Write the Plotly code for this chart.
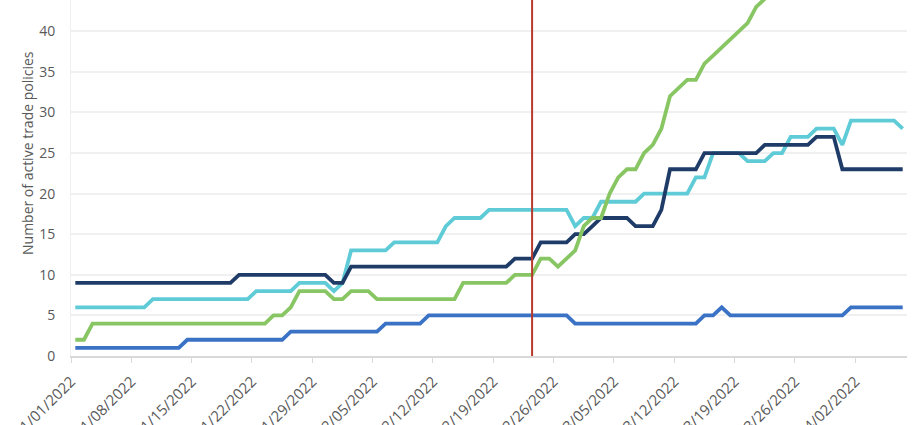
import pandas as pd
import plotly.graph_objects as go

# ---- data (daily, 01/01/2022 .. 04/07/2022) ----
start_date = "2022-01-01"
n_days = 97

navy_values = ([9] * 19 + [10] * 11 + [9] * 2 + [11] * 19 + [12] * 3 + [14] * 4 +
               [15] * 2 + [16] + [17] * 4 + [16] * 3 + [18] + [23] * 4 + [25] * 7 +
               [26] * 6 + [27] * 3 + [23] * 8)
cyan_values = ([6] * 9 + [7] * 12 + [8] * 5 + [9] * 4 + [8] + [9] + [13] * 5 + [14] * 6 +
               [16] + [17] * 4 + [18] * 10 + [16] + [17] * 2 + [19] * 5 + [20] * 6 +
               [22] * 2 + [25] * 4 + [24] * 3 + [25] * 2 + [27] * 3 + [28] * 3 + [26] +
               [29] * 6 + [28])
green_values = ([2] * 2 + [4] * 21 + [5] * 2 + [6] + [8] * 4 + [7] * 2 + [8] * 3 + [7] * 10 +
                [9] * 6 + [10] * 3 + [12] * 2 + [11] + [12] + [13] + [16] + [17] + [17] +
                [20] + [22] + [23] * 2 + [25] + [26] + [28] + [32] + [33] + [34] * 2 +
                [36] + [37] + [38] + [39] + [40] + [41] + [43] + [44] +
                [45, 46, 47, 47, 48, 49, 50, 51, 51, 52, 53, 54, 54, 55, 56, 56])
blue_values = ([1] * 13 + [2] * 12 + [3] * 11 + [4] * 5 + [5] * 17 + [4] * 15 + [5] * 2 +
               [6] + [5] * 14 + [6] * 7)

event_date = "2022-02-23"
y_title = "Number of active trade policies"

for arr in (navy_values, cyan_values, green_values, blue_values):
    assert len(arr) == n_days, len(arr)

days = pd.date_range(start_date, periods=n_days, freq="D")
half_day = pd.Timedelta(hours=12)
x_vals = days + half_day  # points sit in the middle of each day's slot

series = [
    ("Cyan", cyan_values, "#5ECBD7"),
    ("Navy", navy_values, "#1F3C68"),
    ("Green", green_values, "#88C664"),
    ("Blue", blue_values, "#3A72C6"),
]

fig = go.Figure()
order = ["Blue", "Cyan", "Navy", "Green"]
lookup = {n: (v, c) for n, v, c in series}
for name in order:
    vals, col = lookup[name]
    fig.add_trace(go.Scatter(
        x=x_vals, y=vals, mode="lines", name=name,
        line=dict(color=col, width=3.8), showlegend=False,
    ))

event_x = pd.Timestamp(event_date) + half_day
fig.add_shape(type="line", xref="x", yref="paper",
              x0=event_x, x1=event_x, y0=0, y1=1,
              line=dict(color="#B83A2E", width=2))

font_color = "#595959"
fig.update_layout(
    width=920, height=425,
    margin=dict(l=71, r=13, t=0, b=69, autoexpand=False),
    plot_bgcolor="white", paper_bgcolor="white",
    font=dict(family="Open Sans", size=14, color=font_color),
    xaxis=dict(
        type="date", automargin=False,
        range=[days[0], days[-1] + pd.Timedelta(days=1)],
        tick0=days[0], dtick=7 * 86400000,
        tickformat="%m/%d/%Y", tickangle=-45,
        ticks="outside", ticklen=5, tickcolor="#d9d9d9", tickwidth=1,
        showline=True, linecolor="#d9d9d9", linewidth=1.5,
        showgrid=False, zeroline=False,
        ticklabelstandoff=4,
        tickfont=dict(size=15, color=font_color),
    ),
    yaxis=dict(
        automargin=False,
        range=[0, 43.85], dtick=5,
        showgrid=True, gridcolor="#f0f0f0", gridwidth=1.5,
        showline=True, linecolor="#f0f0f0", linewidth=1,
        zeroline=False, ticks="",
        ticklabelstandoff=12,
        tickfont=dict(size=14, color=font_color),
    ),
    annotations=[dict(
        text=y_title, xref="paper", yref="paper",
        x=(27 - 71) / 836, y=(356 - 153) / 356,
        xanchor="center", yanchor="middle", textangle=-90,
        showarrow=False, font=dict(size=14, color=font_color),
    )],
)

fig.write_html("out.html")
